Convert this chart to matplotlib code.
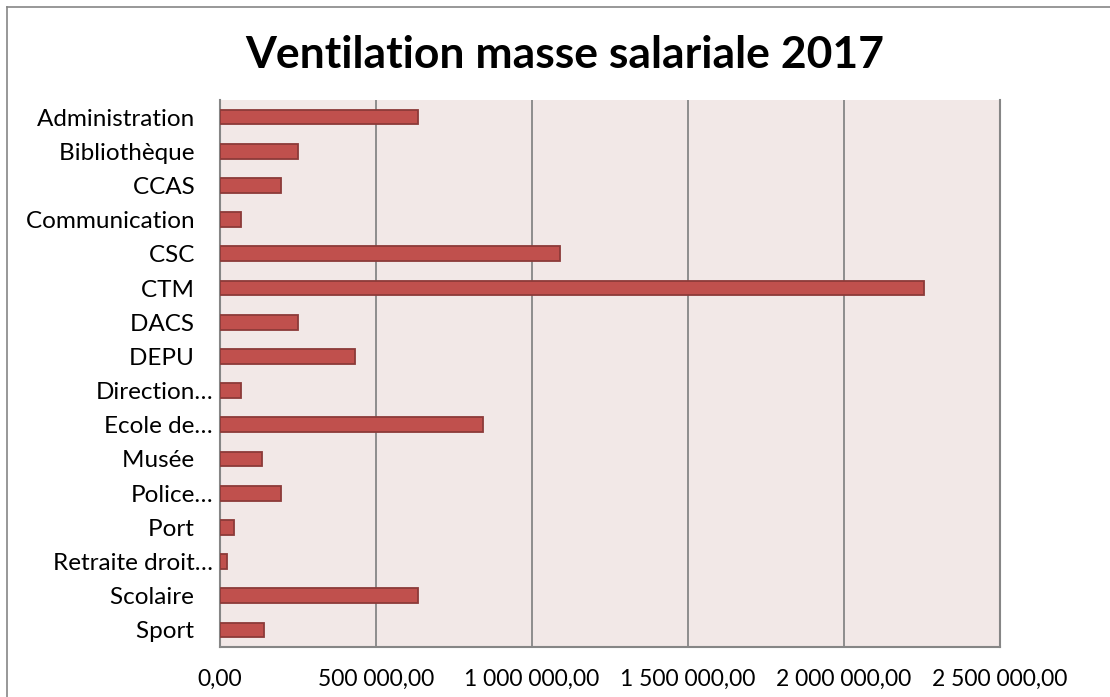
import matplotlib
matplotlib.use("Agg")
import matplotlib.pyplot as plt
from matplotlib.ticker import FuncFormatter, MultipleLocator
from matplotlib.lines import Line2D

# Services (ordre du graphique, de haut en bas)
services = [
    "Administration", "Bibliothèque", "CCAS", "Communication", "CSC",
    "CTM", "DACS", "DEPU", "Direction…", "Ecole de…", "Musée",
    "Police…", "Port", "Retraite droit…", "Scolaire", "Sport",
]
# Masse salariale 2017 (estimée à partir du graphique)
montants = [
    635000, 250000, 196000, 68000, 1090000,
    2255000, 251000, 433000, 68000, 842000, 135000,
    196000, 45000, 22000, 635000, 141000,
]

BAR_COLOR = "#C0504D"
EDGE_COLOR = "#8C3A38"
PLOT_BG = "#F2E8E7"
GRID_COLOR = "#868686"

plt.rcParams["font.family"] = ["Lato", "DejaVu Sans"]


def fr_format(v, pos=None):
    return f"{v:,.2f}".replace(",", " ").replace(".", ",")


# Excel laisse un blanc après les libellés non tronqués
labels = [s if s.endswith("…") else s + "   " for s in services]

fig = plt.figure(figsize=(11.1, 6.97), dpi=100)
ax = fig.add_axes([220 / 1110, 1 - 647 / 697, 780 / 1110, 547 / 697])
ax.set_facecolor(PLOT_BG)

y = list(range(len(services)))
ax.barh(y, montants, height=0.43, color=BAR_COLOR, edgecolor=EDGE_COLOR,
        linewidth=1.3, zorder=3)

ax.set_ylim(len(services) - 0.5, -0.5)
ax.set_yticks(y)
ax.set_yticklabels(labels, fontsize=17.5)
ax.tick_params(axis="y", length=0, pad=5)

ax.set_xlim(0, 2500000)
ax.xaxis.set_major_locator(MultipleLocator(500000))
ax.xaxis.set_major_formatter(FuncFormatter(fr_format))
ax.tick_params(axis="x", length=0, pad=16, labelsize=16.5)

ax.grid(axis="x", color=GRID_COLOR, linewidth=1.3, zorder=1)
ax.set_axisbelow(True)
for side in ("left", "bottom", "right"):
    ax.spines[side].set_color(GRID_COLOR)
    ax.spines[side].set_linewidth(1.5)
ax.spines["top"].set_visible(False)

fig.text(0.509, 1 - 55 / 697, "Ventilation masse salariale 2017",
         ha="center", va="center", fontsize=32, fontweight="bold")

# cadre extérieur du graphique
fig.add_artist(Line2D([7 / 1110, 1], [1 - 7 / 697, 1 - 7 / 697],
                      transform=fig.transFigure, color=GRID_COLOR, linewidth=1.2))
fig.add_artist(Line2D([7 / 1110, 7 / 1110], [0, 1 - 7 / 697],
                      transform=fig.transFigure, color=GRID_COLOR, linewidth=1.2))

fig.savefig("out.png", dpi=100)
